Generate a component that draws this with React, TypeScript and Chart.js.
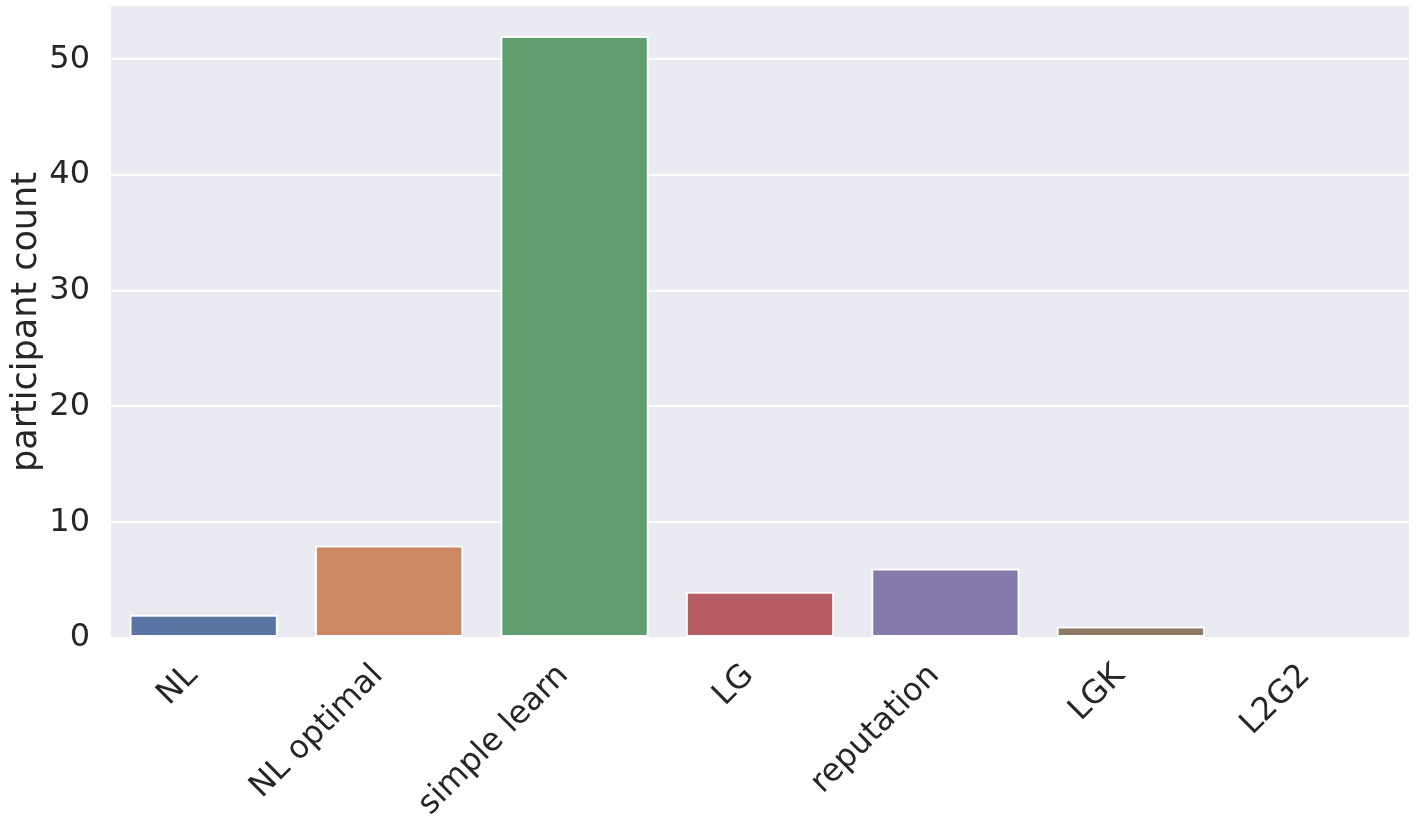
import React, { useEffect, useRef } from "react";
import { Chart, registerables } from "chart.js";

Chart.register(...registerables);

const categories = ["NL", "NL optimal", "simple learn", "LG", "reputation", "LGK", "L2G2"];
const counts = [2, 8, 52, 4, 6, 1, 0];
const barColors = ["#5975a4", "#cc8963", "#5f9e6e", "#b55d60", "#857aab", "#8d7866", "#d095bf"];
const yTicks = [0, 10, 20, 30, 40, 50];
const yMax = 54.6;

const FONT = "'DejaVu Sans', sans-serif";
const TEXT = "#262626";

const bgPlugin = {
  id: "plotBg",
  beforeDraw(chart: any) {
    const { ctx, chartArea } = chart;
    if (!chartArea) return;
    ctx.save();
    ctx.fillStyle = "#eaeaf2";
    ctx.fillRect(chartArea.left, chartArea.top, chartArea.right - chartArea.left, chartArea.bottom - chartArea.top);
    ctx.restore();
    // matplotlib-style anchoring of rotated labels (top-right of bounding box at the tick)
    const xs = chart.scales.x;
    if (xs && !xs.__shifted) {
      const items = xs.getLabelItems(chartArea);
      items.forEach((it: any) => {
        it.options.translation[0] -= 11;
        it.options.translation[1] += 5;
      });
      xs.__shifted = true;
    }
  },
};

export default function App() {
  const ref = useRef<HTMLCanvasElement | null>(null);
  useEffect(() => {
    document.body.style.margin = "0";
    const chart = new Chart(ref.current as HTMLCanvasElement, {
      type: "bar",
      data: {
        labels: categories,
        datasets: [
          {
            data: counts,
            backgroundColor: barColors,
            borderColor: "#ffffff",
            borderWidth: 2,
            borderSkipped: false,
            barPercentage: 0.8,
            categoryPercentage: 1,
          },
        ],
      },
      plugins: [bgPlugin],
      options: {
        responsive: false,
        animation: false,
        layout: { padding: { top: 6, right: 9, left: 0, bottom: 0 } },
        plugins: { legend: { display: false }, tooltip: { enabled: false } },
        scales: {
          x: {
            grid: { display: false, drawTicks: false },
            border: { display: false },
            ticks: {
              minRotation: 45,
              maxRotation: 45,
              autoSkip: false,
              padding: 14,
              color: TEXT,
              font: { family: FONT, size: 32 },
            },
            afterFit(scale: any) {
              scale.height = 183;
              scale.paddingLeft = 0;
              scale.paddingRight = 0;
            },
          },
          y: {
            min: 0,
            max: yMax,
            grid: { color: "#ffffff", lineWidth: 2, drawTicks: false },
            border: { display: false },
            afterBuildTicks(scale: any) {
              scale.ticks = yTicks.map((v) => ({ value: v }));
            },
            ticks: {
              padding: 21,
              color: TEXT,
              font: { family: FONT, size: 32 },
            },
            title: {
              display: true,
              text: "participant count",
              color: TEXT,
              font: { family: FONT, size: 35 },
              padding: { top: 6, bottom: 0 },
            },
            afterFit(scale: any) {
              scale.width = 111;
              scale.paddingTop = 0;
              scale.paddingBottom = 0;
            },
          },
        },
      },
    } as any);
    return () => chart.destroy();
  }, []);
  return (
    <div style={{ width: 1418, height: 821 }}>
      <canvas ref={ref} width={1418} height={821} style={{ display: "block" }} />
    </div>
  );
}
